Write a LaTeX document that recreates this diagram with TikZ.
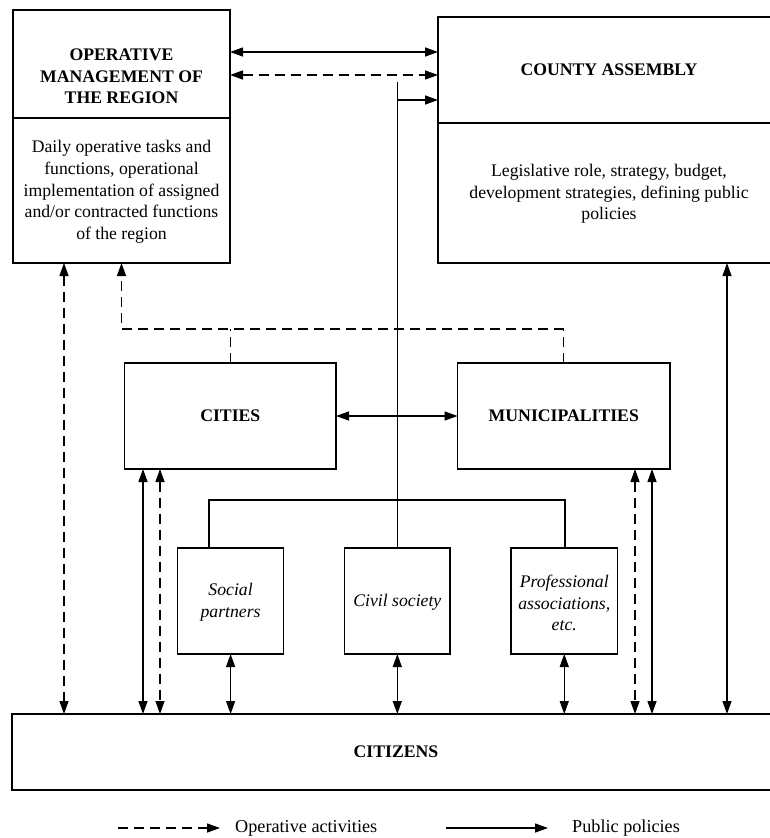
\documentclass[tikz,border=0pt]{standalone}
\usepackage{fontspec}
\setmainfont{Liberation Serif}
\usetikzlibrary{arrows.meta}
\begin{document}
\begin{tikzpicture}[x=1pt,y=-1pt,
  box/.style={draw, line width=1.3pt, inner sep=0pt, outer sep=0pt},
  txt/.style={inner sep=0pt, align=center, font=\fontsize{17.7}{21.7}\selectfont},
  btxt/.style={txt, font=\fontsize{17.7}{21.7}\selectfont\bfseries},
  itxt/.style={txt, font=\fontsize{17.7}{21.7}\selectfont\itshape},
  ltxt/.style={txt, font=\fontsize{18.2}{22}\selectfont},
  conn/.style={line width=1.3pt},
  dl/.style={conn, dash pattern=on 10pt off 6pt},
  tip/.style={-{Triangle[length=13pt,width=9pt]}},
  dtip/.style={{Triangle[length=13pt,width=9pt]}-{Triangle[length=13pt,width=9pt]}}
]
\useasboundingbox (0,0) rectangle (769,838);

% boxes
\node[box, minimum width=217pt, minimum height=108pt] (opmT) at (121.5,64) {};
\node[box, minimum width=217pt, minimum height=145pt] (opmB) at (121.5,190.5) {};
\node[box, minimum width=342pt, minimum height=106pt] (caT) at (609,70) {};
\node[box, minimum width=342pt, minimum height=140pt] (caB) at (609,193) {};
\node[box, minimum width=211.4pt, minimum height=106pt] (cit) at (230.3,416) {};
\node[box, minimum width=212.4pt, minimum height=106pt] (mun) at (563.8,416) {};
\node[box, minimum width=106.4pt, minimum height=106pt] (soc) at (230.6,601) {};
\node[box, minimum width=105.4pt, minimum height=106pt] (civ) at (397.3,601) {};
\node[box, minimum width=106.5pt, minimum height=106pt] (pro) at (564.25,601) {};
\node[box, minimum width=768pt, minimum height=76pt] (citz) at (396,752) {};

% texts
\node[btxt] (opmTt) at (121.5,76.5) {OPERATIVE\\MANAGEMENT OF\\THE REGION};
\node[txt] (opmBt) at (121.5,192) {Daily operative tasks and\\functions, operational\\implementation of assigned\\and/or contracted functions\\of the region};
\node[btxt] (caTt) at (609,70) {COUNTY ASSEMBLY};
\node[txt] (caBt) at (609,194) {Legislative role, strategy, budget,\\development strategies, defining public\\policies};
\node[btxt] (citt) at (230.3,416) {CITIES};
\node[btxt] (munt) at (563.8,416) {MUNICIPALITIES};
\node[itxt] (soct) at (230.6,602) {Social\\partners};
\node[itxt] (civt) at (397.3,602) {Civil society};
\node[itxt] (prot) at (564.25,603) {Professional\\associations,\\etc.};
\node[btxt] (citzt) at (396,752) {CITIZENS};

% helper coordinates
\coordinate (r52) at (0,52);
\coordinate (r75) at (0,75);
\coordinate (r82) at (0,82);
\coordinate (r100) at (0,100);
\coordinate (r329) at (0,329);
\coordinate (r500) at (0,500);
\coordinate (x64) at (64,0);
\coordinate (x121) at (121.5,0);
\coordinate (x143) at (143,0);
\coordinate (x160) at (160,0);
\coordinate (x209) at (209,0);
\coordinate (x565) at (565,0);
\coordinate (x635) at (635,0);
\coordinate (x652) at (652,0);
\coordinate (x727) at (727,0);

% top connectors
\draw[conn, dtip] (opmT.east |- r52) -- (caT.west |- r52);
\draw[dl, dtip] (opmT.east |- r75) -- (caT.west |- r75);
\draw[conn] (civ.north) -- (civ.north |- r82);
\draw[conn, tip] (civ.north |- r100) -- (caT.west |- r100);

% civil society branch
\draw[conn] (soc.north -| x209) -- (x209 |- r500) -- (x565 |- r500) -- (pro.north -| x565);

% dashed feedback to operative management
\draw[dl] (cit.north) -- (cit.north |- r329);
\draw[dl] (mun.north) -- (mun.north |- r329);
\draw[dl, tip] (mun.north |- r329) -- (x121 |- r329) -- (opmB.south -| x121);

% cities <-> municipalities
\draw[conn, dtip] (cit.east) -- (mun.west);

% verticals to citizens
\draw[dl, dtip] (opmB.south -| x64) -- (citz.north -| x64);
\draw[conn, dtip] (cit.south -| x143) -- (citz.north -| x143);
\draw[dl, dtip] (cit.south -| x160) -- (citz.north -| x160);
\draw[dl, dtip] (mun.south -| x635) -- (citz.north -| x635);
\draw[conn, dtip] (mun.south -| x652) -- (citz.north -| x652);
\draw[conn, dtip] (caB.south -| x727) -- (citz.north -| x727);
\draw[conn, dtip] (soc.south) -- (citz.north -| soc.south);
\draw[conn, dtip] (civ.south) -- (citz.north -| civ.south);
\draw[conn, dtip] (pro.south) -- (citz.north -| pro.south);

% legend
\coordinate (l1a) at (118,828);
\coordinate (l1b) at (220,828);
\coordinate (l2a) at (446,828);
\coordinate (l2b) at (548,828);
\draw[dl, tip] (l1a) -- (l1b);
\draw[conn, tip] (l2a) -- (l2b);
\node[ltxt, anchor=west] (l1t) at (235,828) {Operative activities};
\node[ltxt, anchor=west] (l2t) at (572,828) {Public policies};
\end{tikzpicture}
\end{document}
